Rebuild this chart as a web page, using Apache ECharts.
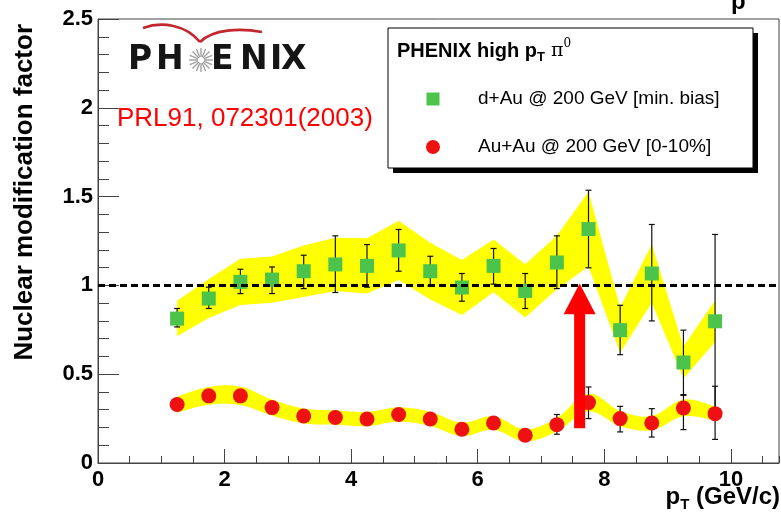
<!DOCTYPE html>
<html>
<head>
<meta charset="utf-8">
<script src="https://cdn.jsdelivr.net/npm/echarts@6/dist/echarts.min.js"></script>
<style>
  html, body { margin: 0; padding: 0; background: #fff; }
  #chart { width: 781px; height: 513px; }
</style>
</head>
<body>
<div id="chart"></div>
<script>
// pT bin centres (GeV/c)
const ptBins = [1.25, 1.75, 2.25, 2.75, 3.25, 3.75, 4.25, 4.75, 5.25, 5.75, 6.25, 6.75, 7.25, 7.75, 8.25, 8.75, 9.25, 9.75];

// d+Au @ 200 GeV, minimum bias
const dAuRaa      = [0.813, 0.926, 1.020, 1.033, 1.080, 1.118, 1.110, 1.197, 1.080, 0.988, 1.110, 0.969, 1.129, 1.317, 0.748, 1.067, 0.566, 0.798];
const dAuStatUp   = [0.057, 0.064, 0.071, 0.071, 0.090, 0.161, 0.120, 0.118, 0.084, 0.079, 0.098, 0.098, 0.150, 0.219, 0.140, 0.276, 0.182, 0.489];
const dAuStatDown = [0.047, 0.056, 0.066, 0.079, 0.098, 0.158, 0.120, 0.117, 0.083, 0.077, 0.103, 0.099, 0.147, 0.218, 0.138, 0.267, 0.185, 0.489];
const dAuSys      = [0.100, 0.110, 0.130, 0.130, 0.145, 0.150, 0.155, 0.167, 0.160, 0.155, 0.148, 0.150, 0.150, 0.210, 0.127, 0.165, 0.090, 0.117];

// Au+Au @ 200 GeV, 0-10% central
const auAuRaa      = [0.329, 0.378, 0.378, 0.312, 0.265, 0.256, 0.248, 0.273, 0.248, 0.190, 0.225, 0.156, 0.216, 0.340, 0.250, 0.225, 0.310, 0.278];
const auAuStatUp   = [0.020, 0.020, 0.020, 0.020, 0.020, 0.020, 0.020, 0.020, 0.020, 0.020, 0.025, 0.030, 0.057, 0.088, 0.069, 0.081, 0.075, 0.154];
const auAuStatDown = [0.020, 0.020, 0.020, 0.020, 0.020, 0.020, 0.020, 0.020, 0.020, 0.020, 0.025, 0.030, 0.054, 0.090, 0.075, 0.079, 0.122, 0.145];
const auAuSys      = [0.045, 0.050, 0.052, 0.045, 0.042, 0.040, 0.040, 0.040, 0.040, 0.038, 0.038, 0.034, 0.038, 0.050, 0.042, 0.040, 0.047, 0.040];

// axis ranges and the unity reference
const xRange = [0, 10.76];
const yRange = [0, 2.5];
const unityLevel = 1;

// suppression arrow: pT position, shaft start, head start, tip
const arrowSpec = [7.61, 0.195, 0.838, 1.01];

// text
const yTitle = 'Nuclear modification factor';
const refText = 'PRL91, 072301(2003)';
const legendEntries = ['d+Au @ 200 GeV [min. bias]', 'Au+Au @ 200 GeV [0-10%]'];

const SANS = '"Liberation Sans", Arial, sans-serif';
const GREEN = '#4cc44c';
const RED = '#ee1111';
const BAND = '#ffff00';
const AXIS = '#444';

const pairs = (xs, ys) => xs.map((x, i) => [x, ys[i]]);

function errorItem(params, api) {
  const x = api.value(0);
  const lo = api.coord([x, api.value(1)]);
  const hi = api.coord([x, api.value(2)]);
  const cap = 3;
  const st = { stroke: '#111', lineWidth: 1.2 };
  return {
    type: 'group',
    children: [
      { type: 'line', shape: { x1: lo[0], y1: lo[1], x2: hi[0], y2: hi[1] }, style: st },
      { type: 'line', shape: { x1: hi[0] - cap, y1: hi[1], x2: hi[0] + cap, y2: hi[1] }, style: st },
      { type: 'line', shape: { x1: lo[0] - cap, y1: lo[1], x2: lo[0] + cap, y2: lo[1] }, style: st }
    ]
  };
}

function arrowItem(params, api) {
  const x = api.value(0);
  const base = api.coord([x, api.value(1)]);
  const neck = api.coord([x, api.value(2)]);
  const tip = api.coord([x, api.value(3)]);
  const sw = 5.5, hw = 16;
  return {
    type: 'polygon',
    shape: { points: [
      [base[0] - sw, base[1]], [neck[0] - sw, neck[1]], [neck[0] - hw, neck[1]],
      [tip[0], tip[1]],
      [neck[0] + hw, neck[1]], [neck[0] + sw, neck[1]], [base[0] + sw, base[1]]
    ] },
    style: { fill: '#ff0000' }
  };
}

// Catmull-Rom style smoothing of a pixel polyline, sampled densely
function smoothPolyline(pts, tension) {
  const out = [pts[0]];
  const n = pts.length;
  for (let i = 0; i < n - 1; i++) {
    const p0 = pts[Math.max(i - 1, 0)], p1 = pts[i], p2 = pts[i + 1], p3 = pts[Math.min(i + 2, n - 1)];
    const c1 = [p1[0] + (p2[0] - p0[0]) * tension, p1[1] + (p2[1] - p0[1]) * tension];
    const c2 = [p2[0] - (p3[0] - p1[0]) * tension, p2[1] - (p3[1] - p1[1]) * tension];
    for (let s = 1; s <= 12; s++) {
      const t = s / 12, u = 1 - t;
      out.push([
        u * u * u * p1[0] + 3 * u * u * t * c1[0] + 3 * u * t * t * c2[0] + t * t * t * p2[0],
        u * u * u * p1[1] + 3 * u * u * t * c1[1] + 3 * u * t * t * c2[1] + t * t * t * p2[1]
      ]);
    }
  }
  return out;
}

// systematic band drawn as one filled polygon (upper edge, then lower edge reversed)
function bandSeries(values, sys, smooth) {
  return {
    type: 'custom', z: 1, silent: true,
    encode: { x: 0, y: [1, 2] },
    data: ptBins.map((x, i) => [x, values[i] - sys[i], values[i] + sys[i]]),
    renderItem: function (params, api) {
      if (params.dataIndex !== 0) return null;
      let up = ptBins.map((x, i) => api.coord([x, values[i] + sys[i]]));
      let lo = ptBins.map((x, i) => api.coord([x, values[i] - sys[i]]));
      if (smooth) { up = smoothPolyline(up, smooth); lo = smoothPolyline(lo, smooth); }
      return { type: 'polygon', shape: { points: up.concat(lo.reverse()) }, style: { fill: BAND } };
    }
  };
}

// PHENIX logo pieces
const logoLetters = [['P', 128], ['H', 156], ['E', 211], ['N', 240], ['I', 270], ['X', 281]];
const starRays = [];
for (let k = 0; k < 16; k++) {
  const a = k * Math.PI / 8;
  starRays.push({
    type: 'line', z: 10,
    shape: { x1: 201 + 3 * Math.cos(a), y1: 60 + 3 * Math.sin(a), x2: 201 + 12 * Math.cos(a), y2: 60 + 12 * Math.sin(a) },
    style: { stroke: '#a0a0a0', lineWidth: 1.4 }
  });
}

const chart = echarts.init(document.getElementById('chart'), null, { renderer: 'canvas' });

chart.setOption({
  animation: false,
  backgroundColor: '#fff',
  grid: { left: 98, right: 2, top: 19, bottom: 50, show: true, borderColor: AXIS, borderWidth: 1, backgroundColor: 'transparent' },
  xAxis: [
    {
      type: 'value', min: xRange[0], max: xRange[1], interval: 2,
      axisLine: { show: true, lineStyle: { color: AXIS, width: 1 } },
      axisTick: { show: true, inside: true, length: 14, lineStyle: { color: AXIS } },
      axisLabel: { color: '#000', fontSize: 22, fontWeight: 'bold', fontFamily: SANS, margin: 6, showMaxLabel: false },
      splitLine: { show: false }
    },
    {
      type: 'value', min: xRange[0], max: xRange[1], interval: 0.5, position: 'bottom',
      axisLine: { show: false },
      axisTick: { show: true, inside: true, length: 7, lineStyle: { color: AXIS } },
      axisLabel: { show: false },
      splitLine: { show: false }
    }
  ],
  yAxis: {
    type: 'value', min: yRange[0], max: yRange[1], interval: 0.5,
    axisLine: { show: true, lineStyle: { color: AXIS, width: 1 } },
    axisTick: { show: true, inside: true, length: 21, lineStyle: { color: AXIS } },
    minorTick: { show: true, splitNumber: 5, length: 11, lineStyle: { color: AXIS } },
    axisLabel: { color: '#000', fontSize: 22, fontWeight: 'bold', fontFamily: SANS, margin: 5 },
    splitLine: { show: false }
  },
  series: [
    bandSeries(dAuRaa, dAuSys, 0),
    bandSeries(auAuRaa, auAuSys, 0.18),
    {
      type: 'custom', z: 2, silent: true, renderItem: errorItem,
      encode: { x: 0, y: [1, 2] },
      data: ptBins.map((x, i) => [x, dAuRaa[i] - dAuStatDown[i], dAuRaa[i] + dAuStatUp[i]])
    },
    {
      type: 'custom', z: 2, silent: true, renderItem: errorItem,
      encode: { x: 0, y: [1, 2] },
      data: ptBins.map((x, i) => [x, auAuRaa[i] - auAuStatDown[i], auAuRaa[i] + auAuStatUp[i]])
    },
    {
      type: 'scatter', z: 3, symbol: 'rect', symbolSize: 14, silent: true,
      itemStyle: { color: GREEN, opacity: 1 },
      data: pairs(ptBins, dAuRaa)
    },
    {
      type: 'scatter', z: 3, symbol: 'circle', symbolSize: 15, silent: true,
      itemStyle: { color: RED, opacity: 1 },
      data: pairs(ptBins, auAuRaa)
    },
    {
      type: 'custom', z: 4, silent: true, renderItem: arrowItem,
      encode: { x: 0, y: [1, 3] },
      data: [arrowSpec]
    },
    {
      type: 'line', z: 5, silent: true, showSymbol: false,
      lineStyle: { color: '#000', width: 3, type: [7, 4] },
      data: [[xRange[0], unityLevel], [xRange[1], unityLevel]]
    }
  ],
  graphic: [
    // axis titles
    {
      type: 'text', x: 25, y: 24, rotation: Math.PI / 2, z: 10,
      style: { text: yTitle, textAlign: 'right', textVerticalAlign: 'middle', font: 'bold 26px ' + SANS, fill: '#000' }
    },
    {
      type: 'text', x: 780, y: 497, z: 10,
      style: {
        text: '{a|p}{b|T}{a| (GeV/c)}', textAlign: 'right', textVerticalAlign: 'middle',
        rich: {
          a: { font: 'bold 24px ' + SANS, fill: '#000', lineHeight: 30, verticalAlign: 'middle' },
          b: { font: 'bold 15px ' + SANS, fill: '#000', lineHeight: 18, verticalAlign: 'bottom' }
        }
      }
    },
    {
      type: 'text', x: 731, y: 14, z: 10,
      style: { text: 'p', textAlign: 'left', textVerticalAlign: 'bottom', font: 'bold 24px ' + SANS, fill: '#000' }
    },
    // logo
    {
      type: 'bezierCurve', z: 10,
      shape: { x1: 143, y1: 28, cpx1: 162, cpy1: 21, cpx2: 186, cpy2: 25, x2: 200, y2: 42 },
      style: { fill: null, stroke: '#c4262e', lineWidth: 2.6 }
    },
    {
      type: 'bezierCurve', z: 10,
      shape: { x1: 200, y1: 42, cpx1: 213, cpy1: 29, cpx2: 240, cpy2: 28, x2: 262, y2: 32 },
      style: { fill: null, stroke: '#c4262e', lineWidth: 2.6 }
    },
    ...starRays,
    ...logoLetters.map(([ch, x]) => ({
      type: 'text', x: x, y: 60, z: 10,
      style: { text: ch, textAlign: 'left', textVerticalAlign: 'middle', font: 'bold 33px "DejaVu Sans", sans-serif', fill: '#151515' }
    })),
    {
      type: 'text', x: 117, y: 119, z: 10,
      style: { text: refText, textAlign: 'left', textVerticalAlign: 'middle', font: '26px ' + SANS, fill: '#ff0000' }
    },
    // legend box with drop shadow
    { type: 'rect', z: 10, shape: { x: 393, y: 33, width: 365, height: 140 }, style: { fill: '#000' } },
    { type: 'rect', z: 11, shape: { x: 388, y: 28, width: 365, height: 140 }, style: { fill: '#fff', stroke: '#000', lineWidth: 1 } },
    {
      type: 'text', x: 397, y: 51, z: 12,
      style: {
        text: '{a|PHENIX high p}{s|T}{g| π}{u|0}', textAlign: 'left', textVerticalAlign: 'middle',
        rich: {
          a: { font: 'bold 20px ' + SANS, fill: '#000', lineHeight: 26, verticalAlign: 'middle' },
          s: { font: 'bold 13px ' + SANS, fill: '#000', lineHeight: 14, verticalAlign: 'bottom' },
          g: { font: '19px "DejaVu Serif", serif', fill: '#000', lineHeight: 26, verticalAlign: 'middle' },
          u: { font: '12px "DejaVu Serif", serif', fill: '#000', lineHeight: 14, verticalAlign: 'top' }
        }
      }
    },
    { type: 'rect', z: 12, shape: { x: 426.5, y: 92.5, width: 13, height: 13 }, style: { fill: GREEN } },
    { type: 'circle', z: 12, shape: { cx: 433, cy: 147, r: 7 }, style: { fill: RED } },
    {
      type: 'text', x: 478, y: 99, z: 12,
      style: { text: legendEntries[0], textAlign: 'left', textVerticalAlign: 'middle', font: '19px ' + SANS, fill: '#000' }
    },
    {
      type: 'text', x: 478, y: 147, z: 12,
      style: { text: legendEntries[1], textAlign: 'left', textVerticalAlign: 'middle', font: '19px ' + SANS, fill: '#000' }
    }
  ]
});
</script>
</body>
</html>
